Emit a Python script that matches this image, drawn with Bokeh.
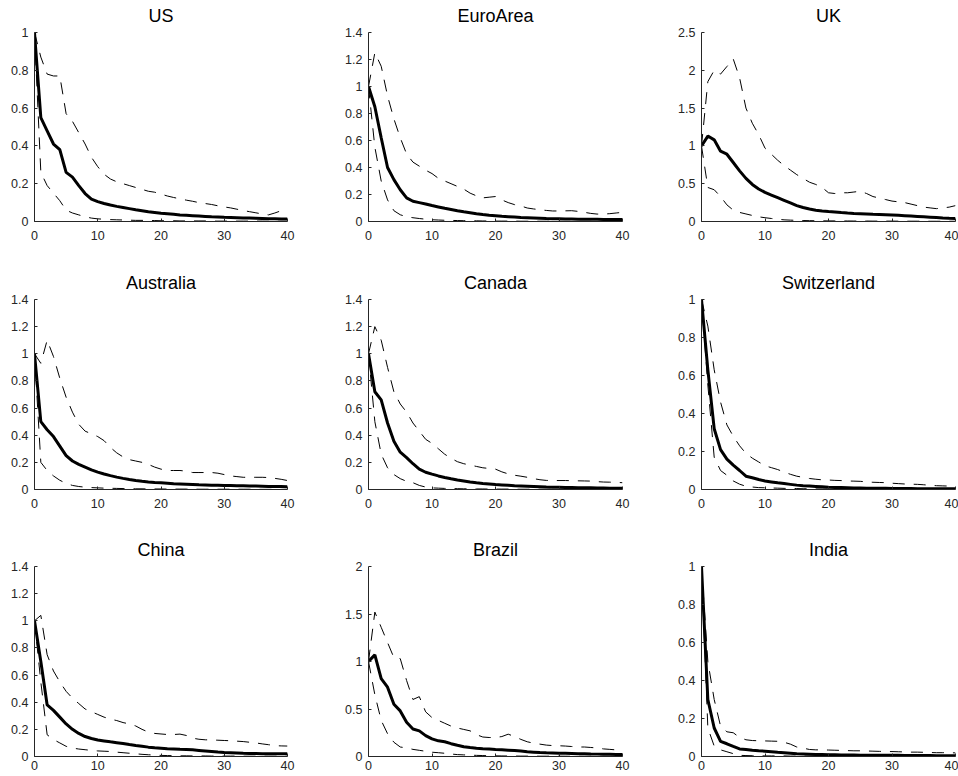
from bokeh.plotting import figure
from bokeh.layouts import gridplot
from bokeh.models import FixedTicker
from bokeh.embed import file_html
from bokeh.resources import INLINE

horizon = list(range(41))

countries = ["US", "EuroArea", "UK", "Australia", "Canada", "Switzerland", "China", "Brazil", "India"]

us_med = [1.00,0.55,0.48,0.41,0.38,0.26,0.235,0.19,0.148,0.118,0.105, 0.095,0.087,0.08,0.074,0.068,0.062,0.057,0.052,0.048,0.044, 0.041,0.038,0.035,0.033,0.031,0.029,0.027,0.025,0.024,0.022, 0.021,0.02,0.019,0.018,0.017,0.016,0.015,0.014,0.013,0.013]
us_up = [1.00,0.87,0.78,0.77,0.77,0.57,0.53,0.47,0.41,0.34,0.29, 0.25,0.225,0.21,0.2,0.19,0.18,0.17,0.16,0.155,0.145, 0.135,0.127,0.12,0.113,0.107,0.1,0.095,0.09,0.083,0.077, 0.072,0.065,0.058,0.052,0.046,0.04,0.035,0.045,0.057,0.062]
us_lo = [1.00,0.26,0.19,0.15,0.11,0.06,0.045,0.035,0.025,0.018,0.014, 0.012,0.01,0.009,0.008,0.007,0.006,0.006,0.005,0.005,0.004, 0.004,0.004,0.003,0.003,0.003,0.003,0.003,0.002,0.002,0.002, 0.002,0.002,0.002,0.002,0.002,0.002,0.001,0.001,0.001,0.001]

ea_med = [1.00,0.85,0.62,0.40,0.31,0.235,0.175,0.15,0.14,0.13,0.118, 0.108,0.098,0.089,0.08,0.072,0.065,0.058,0.052,0.047,0.043, 0.039,0.036,0.033,0.03,0.028,0.026,0.024,0.022,0.021,0.02, 0.019,0.018,0.017,0.017,0.016,0.016,0.015,0.015,0.015,0.015]
ea_up = [1.00,1.25,1.15,0.93,0.76,0.62,0.5,0.44,0.41,0.38,0.355, 0.32,0.30,0.28,0.26,0.24,0.21,0.19,0.175,0.18,0.185, 0.16,0.14,0.125,0.115,0.1,0.093,0.087,0.082,0.078,0.078, 0.079,0.08,0.075,0.068,0.06,0.055,0.055,0.058,0.063,0.068]
ea_lo = [1.00,0.55,0.3,0.16,0.08,0.05,0.035,0.028,0.022,0.017,0.013, 0.011,0.009,0.008,0.007,0.006,0.005,0.005,0.004,0.004,0.003, 0.003,0.003,0.003,0.002,0.002,0.002,0.002,0.002,0.002,0.002, 0.001,0.001,0.001,0.001,0.001,0.001,0.001,0.001,0.001,0.001]

uk_med = [1.00,1.13,1.08,0.93,0.89,0.78,0.67,0.57,0.49,0.43,0.385, 0.35,0.315,0.28,0.245,0.21,0.185,0.165,0.15,0.14,0.132, 0.125,0.118,0.112,0.107,0.103,0.099,0.095,0.092,0.089,0.086, 0.082,0.077,0.072,0.067,0.062,0.057,0.052,0.047,0.043,0.04]
uk_up = [1.00,1.85,2.0,1.95,2.05,2.15,1.9,1.5,1.3,1.15,0.97, 0.89,0.81,0.74,0.68,0.62,0.57,0.52,0.49,0.45,0.38, 0.37,0.38,0.38,0.39,0.4,0.37,0.33,0.31,0.29,0.27, 0.26,0.25,0.23,0.21,0.19,0.18,0.17,0.18,0.19,0.21]
uk_lo = [1.00,0.45,0.42,0.33,0.22,0.15,0.12,0.1,0.08,0.062,0.05, 0.04,0.03,0.022,0.018,0.015,0.013,0.011,0.01,0.009,0.008, 0.008,0.007,0.007,0.006,0.006,0.006,0.005,0.005,0.005,0.005, 0.004,0.004,0.004,0.004,0.004,0.003,0.003,0.003,0.003,0.003]

au_med = [1.00,0.5,0.44,0.39,0.32,0.25,0.21,0.185,0.165,0.145,0.128, 0.114,0.102,0.091,0.082,0.074,0.067,0.061,0.056,0.052,0.049, 0.046,0.043,0.041,0.039,0.037,0.035,0.034,0.032,0.031,0.03, 0.029,0.028,0.027,0.026,0.025,0.024,0.023,0.022,0.022,0.021]
au_up = [1.00,0.93,1.1,0.98,0.82,0.68,0.57,0.48,0.43,0.41,0.39, 0.36,0.31,0.27,0.24,0.22,0.21,0.2,0.185,0.165,0.15, 0.14,0.14,0.14,0.135,0.125,0.125,0.125,0.125,0.12,0.11, 0.1,0.095,0.09,0.09,0.09,0.09,0.088,0.082,0.075,0.066]
au_lo = [1.00,0.2,0.14,0.1,0.068,0.045,0.03,0.022,0.017,0.014,0.012, 0.01,0.009,0.008,0.007,0.006,0.005,0.005,0.004,0.004,0.004, 0.003,0.003,0.003,0.003,0.003,0.002,0.002,0.002,0.002,0.002, 0.002,0.002,0.002,0.002,0.001,0.001,0.001,0.001,0.001,0.001]

ca_med = [1.00,0.72,0.66,0.49,0.355,0.275,0.235,0.19,0.15,0.127,0.113, 0.1,0.089,0.079,0.07,0.063,0.056,0.05,0.045,0.041,0.037, 0.034,0.031,0.028,0.026,0.024,0.022,0.02,0.018,0.017,0.016, 0.015,0.014,0.013,0.012,0.012,0.011,0.011,0.01,0.01,0.01]
ca_up = [1.00,1.2,1.1,0.9,0.72,0.63,0.57,0.49,0.43,0.37,0.34, 0.3,0.26,0.23,0.205,0.19,0.18,0.17,0.16,0.155,0.15, 0.13,0.115,0.105,0.098,0.09,0.08,0.072,0.067,0.066,0.066, 0.066,0.065,0.064,0.063,0.062,0.058,0.055,0.054,0.053,0.05]
ca_lo = [1.00,0.5,0.26,0.16,0.11,0.08,0.06,0.05,0.03,0.018,0.012, 0.01,0.008,0.007,0.006,0.005,0.005,0.004,0.004,0.003,0.003, 0.003,0.003,0.002,0.002,0.002,0.002,0.002,0.002,0.002,0.002, 0.001,0.001,0.001,0.001,0.001,0.001,0.001,0.001,0.001,0.001]

ch_med = [1.00,0.63,0.32,0.21,0.16,0.128,0.1,0.07,0.062,0.053,0.045, 0.04,0.035,0.031,0.027,0.023,0.02,0.018,0.016,0.014,0.012, 0.011,0.01,0.009,0.008,0.008,0.007,0.007,0.006,0.006,0.005, 0.005,0.005,0.005,0.004,0.004,0.004,0.004,0.004,0.004,0.004]
ch_up = [1.00,0.86,0.63,0.46,0.34,0.28,0.23,0.19,0.165,0.145,0.125, 0.115,0.105,0.092,0.08,0.07,0.064,0.058,0.054,0.051,0.05, 0.048,0.047,0.045,0.044,0.043,0.04,0.038,0.037,0.036,0.033, 0.031,0.029,0.028,0.027,0.025,0.022,0.02,0.019,0.018,0.018]
ch_lo = [1.00,0.55,0.17,0.1,0.075,0.045,0.028,0.017,0.013,0.01,0.009, 0.008,0.007,0.006,0.005,0.005,0.004,0.004,0.003,0.003,0.003, 0.003,0.002,0.002,0.002,0.002,0.002,0.002,0.002,0.001,0.001, 0.001,0.001,0.001,0.001,0.001,0.001,0.001,0.001,0.001,0.001]

cn_med = [1.00,0.7,0.38,0.34,0.29,0.24,0.2,0.17,0.147,0.133,0.122, 0.115,0.108,0.102,0.096,0.088,0.081,0.075,0.069,0.064,0.061, 0.058,0.056,0.053,0.051,0.049,0.045,0.041,0.037,0.033,0.03, 0.028,0.026,0.024,0.023,0.022,0.021,0.02,0.02,0.02,0.02]
cn_up = [1.00,1.04,0.75,0.63,0.55,0.48,0.43,0.39,0.35,0.33,0.31, 0.29,0.275,0.265,0.25,0.24,0.225,0.2,0.18,0.17,0.166, 0.162,0.162,0.165,0.155,0.135,0.127,0.123,0.122,0.12,0.118, 0.116,0.113,0.11,0.105,0.1,0.093,0.087,0.08,0.078,0.077]
cn_lo = [1.00,0.55,0.16,0.125,0.1,0.075,0.062,0.055,0.05,0.045,0.041, 0.039,0.037,0.032,0.028,0.024,0.02,0.016,0.013,0.01,0.008, 0.007,0.006,0.005,0.005,0.004,0.004,0.004,0.003,0.003,0.003, 0.003,0.003,0.002,0.002,0.002,0.002,0.002,0.002,0.002,0.002]

br_med = [1.00,1.07,0.82,0.73,0.55,0.48,0.36,0.29,0.27,0.22,0.186, 0.165,0.155,0.135,0.118,0.102,0.094,0.087,0.082,0.078,0.074, 0.071,0.067,0.062,0.057,0.05,0.046,0.042,0.039,0.037,0.035, 0.033,0.031,0.029,0.028,0.026,0.025,0.024,0.023,0.022,0.022]
br_up = [1.00,1.52,1.36,1.2,1.04,1.03,0.8,0.6,0.63,0.47,0.41, 0.38,0.35,0.32,0.3,0.285,0.27,0.23,0.205,0.2,0.2, 0.21,0.235,0.21,0.18,0.155,0.14,0.13,0.12,0.115,0.113, 0.11,0.105,0.1,0.1,0.095,0.09,0.08,0.075,0.07,0.065]
br_lo = [1.00,0.65,0.38,0.24,0.15,0.1,0.09,0.075,0.065,0.055,0.045, 0.04,0.034,0.026,0.02,0.017,0.014,0.012,0.01,0.008,0.007, 0.006,0.005,0.005,0.004,0.004,0.004,0.003,0.003,0.003,0.003, 0.003,0.002,0.002,0.002,0.002,0.002,0.002,0.002,0.002,0.002]

in_med = [1.00,0.3,0.15,0.08,0.067,0.053,0.04,0.037,0.033,0.03,0.028, 0.025,0.022,0.02,0.017,0.014,0.013,0.012,0.011,0.01,0.009, 0.009,0.008,0.008,0.008,0.007,0.007,0.007,0.006,0.006,0.006, 0.006,0.005,0.005,0.005,0.005,0.005,0.004,0.004,0.004,0.004]
in_up = [1.00,0.5,0.3,0.16,0.13,0.125,0.1,0.088,0.084,0.083,0.082, 0.081,0.08,0.075,0.065,0.05,0.044,0.037,0.035,0.035,0.034, 0.033,0.032,0.031,0.03,0.03,0.029,0.028,0.027,0.026,0.026, 0.025,0.024,0.023,0.023,0.022,0.021,0.02,0.02,0.02,0.019]
in_lo = [1.00,0.15,0.055,0.035,0.025,0.015,0.006,0.005,0.004,0.004,0.003, 0.003,0.003,0.003,0.002,0.002,0.002,0.002,0.002,0.002,0.002, 0.002,0.001,0.001,0.001,0.001,0.001,0.001,0.001,0.001,0.001, 0.001,0.001,0.001,0.001,0.001,0.001,0.001,0.001,0.001,0.001]

medians = [us_med, ea_med, uk_med, au_med, ca_med, ch_med, cn_med, br_med, in_med]
uppers = [us_up, ea_up, uk_up, au_up, ca_up, ch_up, cn_up, br_up, in_up]
lowers = [us_lo, ea_lo, uk_lo, au_lo, ca_lo, ch_lo, cn_lo, br_lo, in_lo]

y_max = [1, 1.4, 2.5, 1.4, 1.4, 1, 1.4, 2, 1]
ticks_unit = [0, 0.2, 0.4, 0.6, 0.8, 1]
labels_unit = ["0", "0.2", "0.4", "0.6", "0.8", "1"]
ticks_14 = [0, 0.2, 0.4, 0.6, 0.8, 1, 1.2, 1.4]
labels_14 = ["0", "0.2", "0.4", "0.6", "0.8", "1", "1.2", "1.4"]
ticks_25 = [0, 0.5, 1, 1.5, 2, 2.5]
labels_25 = ["0", "0.5", "1", "1.5", "2", "2.5"]
ticks_2 = [0, 0.5, 1, 1.5, 2]
labels_2 = ["0", "0.5", "1", "1.5", "2"]
y_ticks = [ticks_unit, ticks_14, ticks_25, ticks_14, ticks_14, ticks_unit, ticks_14, ticks_2, ticks_unit]
y_labels = [labels_unit, labels_14, labels_25, labels_14, labels_14, labels_unit, labels_14, labels_2, labels_unit]
x_ticks = [0, 10, 20, 30, 40]
x_labels = ["0", "10", "20", "30", "40"]

for arr in medians + uppers + lowers:
    assert len(arr) == 41

# layout (pixels)
col_w = [342, 333, 283]
col_l = [34, 26, 26]
col_r = [55, 53, 3]
row_h = [267, 267, 242]
row_t = [32, 32, 32]
row_b = [46, 45, 20]
x_standoff = [9, 9, 4]

FONT = "Liberation Sans"
AX = "#262626"

grid = []
for r in range(3):
    row = []
    for c in range(3):
        i = r * 3 + c
        p = figure(width=col_w[c], height=row_h[r], x_range=(0, 40), y_range=(0, y_max[i]),
                   output_backend="svg", toolbar_location=None, title=countries[i],
                   min_border_left=col_l[c], min_border_right=col_r[c],
                   min_border_top=row_t[r], min_border_bottom=row_b[r])
        p.title.align = "center"
        p.title.vertical_align = "top"
        p.title.text_font = FONT
        p.title.text_font_size = "18px"
        p.title.text_font_style = "normal"
        p.title.text_color = "black"
        p.title.standoff = 10
        p.outline_line_color = None
        p.grid.visible = False
        p.background_fill_color = "white"
        p.border_fill_color = "white"
        p.xaxis.ticker = FixedTicker(ticks=x_ticks)
        p.xaxis.major_label_overrides = {t: s for t, s in zip(x_ticks, x_labels)}
        p.yaxis.ticker = FixedTicker(ticks=y_ticks[i])
        p.yaxis.major_label_overrides = {t: s for t, s in zip(y_ticks[i], y_labels[i])}
        for ax in (p.xaxis[0], p.yaxis[0]):
            ax.major_tick_in = 3
            ax.major_tick_out = 0
            ax.minor_tick_line_color = None
            ax.axis_line_color = AX
            ax.axis_line_width = 1
            ax.major_tick_line_color = AX
            ax.major_label_text_font = FONT
            ax.major_label_text_font_size = "12.5px"
            ax.major_label_text_color = AX
        p.xaxis.major_label_standoff = x_standoff[r]
        p.yaxis.major_label_standoff = 6

        p.line(horizon, medians[i], line_color="black", line_width=3)
        p.line(horizon, uppers[i], line_color="black", line_width=1, line_dash="12 9")
        p.line(horizon, lowers[i], line_color="black", line_width=1, line_dash="12 9")
        row.append(p)
    grid.append(row)

layout = gridplot(grid, toolbar_location=None)

open("out.html", "w").write(file_html(layout, INLINE))
